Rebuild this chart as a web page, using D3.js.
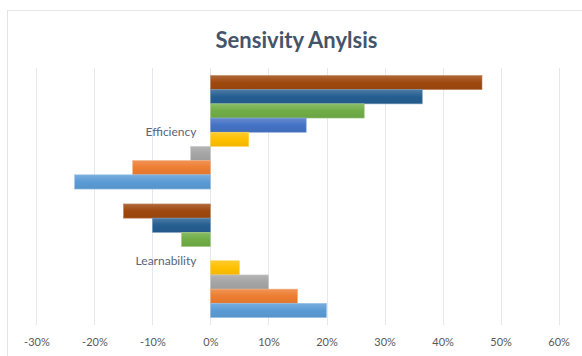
<!DOCTYPE html>
<html>
<head>
<meta charset="utf-8">
<script src="https://cdn.jsdelivr.net/npm/d3@7"></script>
<style>
  html, body { margin: 0; padding: 0; background: #fff; }
  #chart { width: 582px; height: 356px; }
  text { font-family: Lato, "Open Sans", sans-serif; }
</style>
</head>
<body>
<div id="chart"></div>
<script>
// categories top to bottom
const categories = ["Efficiency", "Learnability"];
// series listed top bar first (Excel draws series 1 at the bottom)
const seriesNames = ["Series 8", "Series 7", "Series 6", "Series 5", "Series 4", "Series 3", "Series 2", "Series 1"];
const seriesColors = ["#9E480E", "#255E91", "#70AD47", "#4472C4", "#FFC000", "#A5A5A5", "#ED7D31", "#5B9BD5"];
// values in %
const efficiencyValues = [46.8, 36.5, 26.5, 16.5, 6.6, -3.4, -13.4, -23.4];
const learnabilityValues = [-15, -10, -5, 0, 5, 10, 15, 20];
const xTicks = [-30, -20, -10, 0, 10, 20, 30, 40, 50, 60];

const rows = [
  { category: "Efficiency", values: efficiencyValues },
  { category: "Learnability", values: learnabilityValues }
];

function draw() {
  const w = 582, h = 356;
  const plot = { left: 36.4, right: 558.6, top: 68, bottom: 325 };

  const svg = d3.select("#chart").append("svg")
    .attr("width", w)
    .attr("height", h);

  // gradients per series, lighter at the top like Excel's style
  const defs = svg.append("defs");
  seriesColors.forEach((c, i) => {
    const g = defs.append("linearGradient")
      .attr("id", "grad" + i)
      .attr("x1", 0).attr("y1", 0).attr("x2", 0).attr("y2", 1);
    g.append("stop").attr("offset", "0%").attr("stop-color", d3.interpolateRgb(c, "#fff")(0.18));
    g.append("stop").attr("offset", "50%").attr("stop-color", c);
    g.append("stop").attr("offset", "100%").attr("stop-color", d3.interpolateRgb(c, "#000")(0.05));
  });

  // chart area border
  svg.append("rect")
    .attr("x", 7.5).attr("y", 10.5)
    .attr("width", w + 10).attr("height", h + 10)
    .attr("fill", "none")
    .attr("stroke", "#E3E3E8");

  const x = d3.scaleLinear()
    .domain([-30, 60])
    .range([plot.left, plot.right]);

  const y = d3.scaleBand()
    .domain(categories)
    .range([plot.top, plot.bottom])
    .paddingInner(0.116)
    .paddingOuter(0.058);

  const ySeries = d3.scaleBand()
    .domain(seriesNames)
    .range([0, y.bandwidth()]);

  // gridlines
  svg.append("g")
    .attr("transform", `translate(0,${plot.top})`)
    .call(d3.axisBottom(x).tickValues(xTicks).tickSize(plot.bottom - plot.top).tickFormat(""))
    .call(g => g.select(".domain").remove())
    .call(g => g.selectAll("line").attr("stroke", "#E6E7EE").attr("shape-rendering", "crispEdges"));

  // axis labels
  svg.append("g")
    .attr("transform", `translate(0,${plot.bottom})`)
    .call(d3.axisBottom(x).tickValues(xTicks).tickSize(0).tickPadding(13).tickFormat(d => d + "%"))
    .call(g => g.select(".domain").remove())
    .call(g => g.selectAll("text")
      .attr("fill", "#595959")
      .style("font-size", "11px")
      .style("font-family", "Lato, 'Open Sans', sans-serif"));

  // bars
  const groups = svg.selectAll(".cat")
    .data(rows)
    .join("g")
    .attr("class", "cat")
    .attr("transform", d => `translate(0,${y(d.category)})`);

  groups.selectAll("rect")
    .data(d => d.values.map((v, i) => ({ v, i })))
    .join("rect")
    .attr("x", d => x(Math.min(0, d.v)))
    .attr("y", d => ySeries(seriesNames[d.i]))
    .attr("width", d => Math.abs(x(d.v) - x(0)))
    .attr("height", ySeries.bandwidth())
    .attr("fill", d => `url(#grad${d.i})`)
    .attr("stroke", d => d3.interpolateRgb(seriesColors[d.i], "#fff")(0.35))
    .attr("stroke-width", 0.6);

  // category labels next to the zero line
  svg.selectAll(".catlabel")
    .data(categories)
    .join("text")
    .attr("class", "catlabel")
    .attr("x", x(0) - 14)
    .attr("y", d => y(d) + y.bandwidth() / 2)
    .attr("dy", "0.35em")
    .attr("text-anchor", "end")
    .attr("fill", "#5A6478")
    .style("font-size", "12px")
    .text(d => d);

  // title
  svg.append("text")
    .attr("x", 296.5)
    .attr("y", 48)
    .attr("text-anchor", "middle")
    .attr("fill", "#44546A")
    .style("font-size", "22px")
    .style("font-weight", "bold")
    .text("Sensivity Anylsis");
}

draw();
</script>
</body>
</html>
